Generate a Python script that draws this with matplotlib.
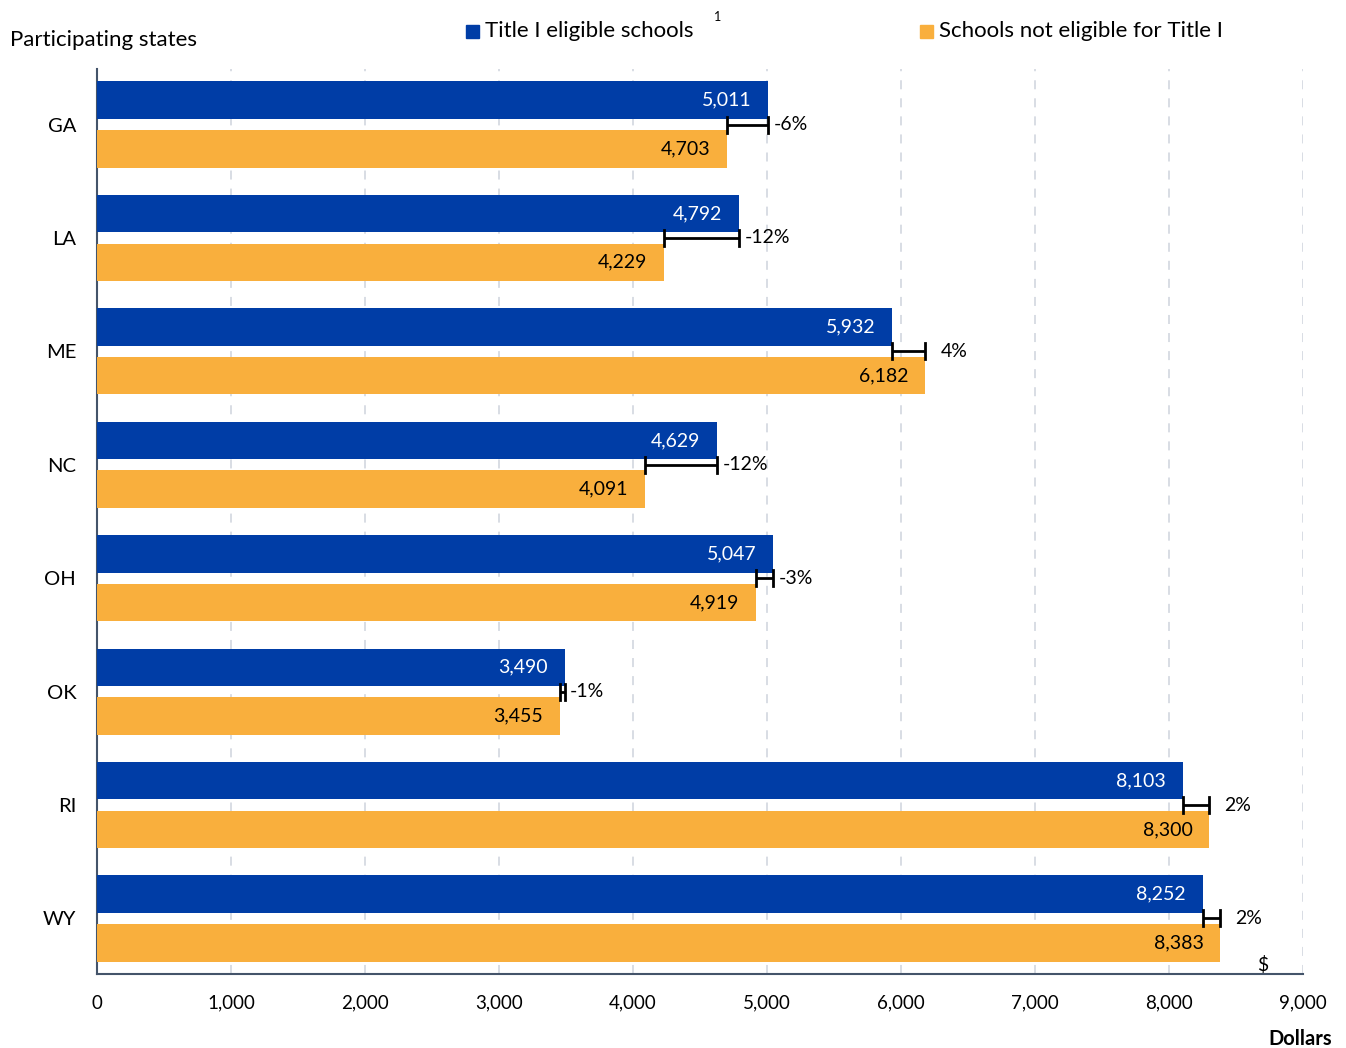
import numpy as np
import matplotlib
matplotlib.use("Agg")
import matplotlib.pyplot as plt

plt.rcParams["font.family"] = ["Lato", "DejaVu Sans"]

states = ["GA", "LA", "ME", "NC", "OH", "OK", "RI", "WY"]
title_i = [5011, 4792, 5932, 4629, 5047, 3490, 8103, 8252]
not_title_i = [4703, 4229, 6182, 4091, 4919, 3455, 8300, 8383]
pct_diff = ["-6%", "-12%", "4%", "-12%", "-3%", "-1%", "2%", "2%"]
x_ticks = np.arange(0, 9001, 1000)

BLUE = "#003DA6"
ORANGE = "#F9AF3D"
AXIS = "#44546A"
GRID = "#D6DAE2"

fig = plt.figure(figsize=(13.46, 10.48), dpi=100)
ax = fig.add_axes([97 / 1346, 74 / 1048, 1206 / 1346, 905 / 1048])

y = np.arange(len(states))
h = 0.33
off = 0.215

ax.barh(y - off, title_i, height=h, color=BLUE, zorder=3)
ax.barh(y + off, not_title_i, height=h, color=ORANGE, zorder=3)

for i in range(len(states)):
    b, o = title_i[i], not_title_i[i]
    ax.annotate(f"{b:,}", (b, y[i] - off), xytext=(-12, 0), textcoords="offset points",
                ha="right", va="center", color="white", fontsize=14, zorder=4)
    ax.annotate(f"{o:,}", (o, y[i] + off), xytext=(-12, 0), textcoords="offset points",
                ha="right", va="center", color="black", fontsize=14, zorder=4)
    # bracket spanning the gap between the two bars
    lo, hi = min(b, o), max(b, o)
    ax.plot([lo, hi], [y[i], y[i]], color="black", lw=2, zorder=5, solid_capstyle="butt")
    for xv in (lo, hi):
        ax.plot([xv, xv], [y[i] - 0.07, y[i] + 0.07], color="black", lw=2, zorder=5)
    dx = 4 if pct_diff[i].startswith("-") else 11
    ax.annotate(pct_diff[i], (hi, y[i]), xytext=(dx, 0), textcoords="offset points",
                ha="left", va="center", fontsize=14, zorder=5)

ax.set_xlim(0, 9000)
ax.set_ylim(len(states) - 0.51, -0.49)
ax.set_xticks(x_ticks)
ax.set_xticklabels([f"{v:,}" for v in x_ticks], fontsize=13.5)
ax.set_yticks(y)
ax.set_yticklabels(states, fontsize=14.5)
ax.tick_params(axis="both", length=0)
ax.tick_params(axis="x", pad=15)
ax.tick_params(axis="y", pad=15)

ax.grid(axis="x", color=GRID, linestyle=(0, (5, 5)), linewidth=1.3, zorder=0)
ax.spines[["top", "right"]].set_visible(False)
for s in ("left", "bottom"):
    ax.spines[s].set_color(AXIS)
    ax.spines[s].set_linewidth(1.5)

ax.text(8700, len(states) - 0.51, "$", ha="center", va="bottom", fontsize=14)

fig.text(10 / 1346, 1 - 40 / 1048, "Participating states", ha="left", va="center", fontsize=16)
fig.text(1332 / 1346, 1 - 1039 / 1048, "Dollars", ha="right", va="center",
         fontsize=14.5, fontweight="bold")

# legend drawn as squares and text across the top
fig.patches.append(plt.Rectangle((466 / 1346, 1 - 38 / 1048), 13 / 1346, 13 / 1048,
                                 transform=fig.transFigure, color=BLUE))
fig.text(485 / 1346, 1 - 31 / 1048, "Title I eligible schools", ha="left", va="center", fontsize=16)
fig.text(718 / 1346, 1 - 17 / 1048, "1", ha="center", va="center", fontsize=9)
fig.patches.append(plt.Rectangle((920 / 1346, 1 - 38 / 1048), 13 / 1346, 13 / 1048,
                                 transform=fig.transFigure, color=ORANGE))
fig.text(939 / 1346, 1 - 31 / 1048, "Schools not eligible for Title I", ha="left", va="center", fontsize=16)

fig.savefig("out.png", dpi=100)
